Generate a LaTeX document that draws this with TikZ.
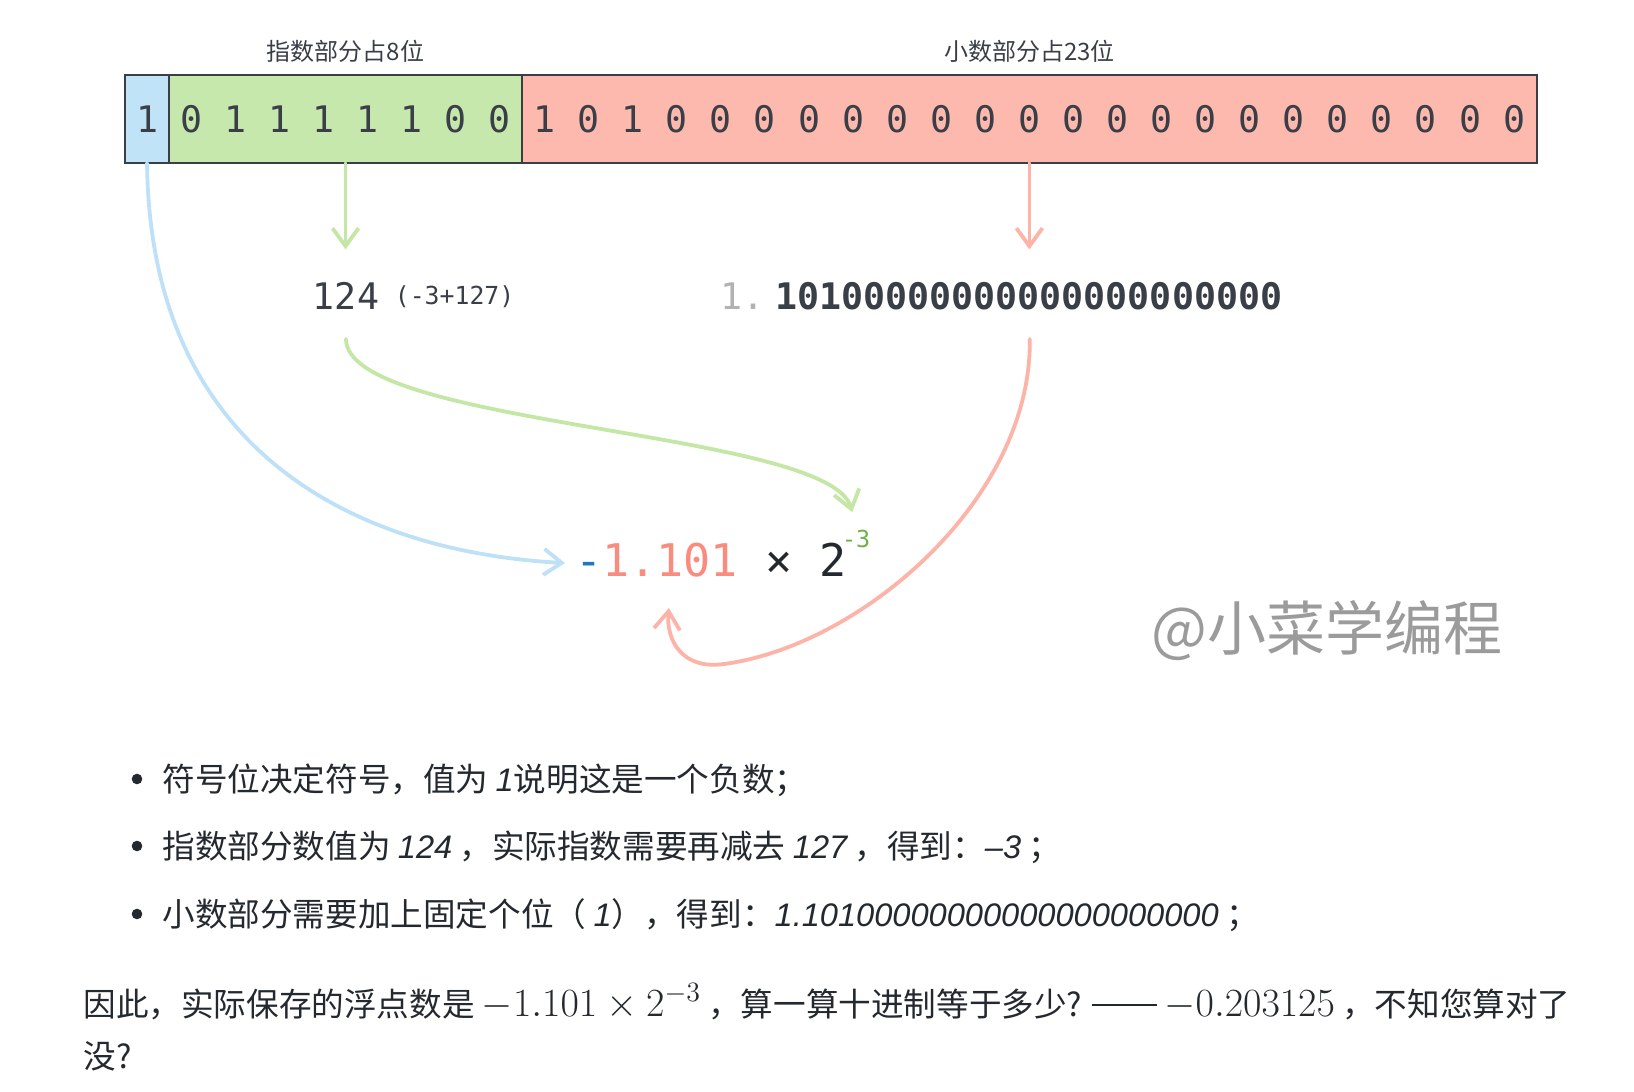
\RequirePackage{fix-cm}
\documentclass[tikz,border=0pt]{standalone}
\usepackage[no-math]{fontspec}
\setmainfont{Noto Sans CJK SC}
\newfontfamily\monofont{DejaVu Sans Mono}
\newfontfamily\numfont{Liberation Sans}
\usetikzlibrary{arrows.meta,calc}
\definecolor{signfill}{RGB}{193,227,247}
\definecolor{expfill}{RGB}{199,232,172}
\definecolor{fracfill}{RGB}{253,185,174}
\definecolor{inkdark}{RGB}{58,63,71}
\definecolor{textdark}{RGB}{36,41,47}
\definecolor{softgray}{RGB}{178,178,178}
\definecolor{markgray}{RGB}{155,155,155}
\definecolor{signblue}{RGB}{30,122,190}
\definecolor{salmon}{RGB}{249,140,126}
\definecolor{supgreen}{RGB}{108,178,70}
\definecolor{blueline}{RGB}{190,225,247}
\definecolor{greenline}{RGB}{196,231,166}
\definecolor{pinkline}{RGB}{253,180,168}
\newcommand{\itn}[1]{{\numfont\itshape #1}}
\newcommand{\mathbig}[1]{{\fontsize{20}{24}\selectfont$#1$}}
\newcommand{\longdash}{\textcolor{textdark}{\rule[0.32em]{2em}{0.9pt}}}
\tikzset{
  cellbox/.style={draw=inkdark, line width=1.2pt, minimum height=44pt, inner sep=0pt, outer sep=0pt,
    anchor=north west, text=inkdark, font=\monofont\fontsize{18.3}{22}\selectfont},
  toplabel/.style={font=\fontsize{12}{14}\selectfont, text=inkdark, inner sep=0pt, anchor=base},
  monobig/.style={font=\monofont\fontsize{18.3}{22}\selectfont, text=inkdark, inner sep=0pt},
  monosmall/.style={font=\monofont\fontsize{12.4}{15}\selectfont, text=inkdark, inner sep=0pt},
  flow/.style={line width=1.9pt, line cap=round, line join=round,
    -{Straight Barb[length=9pt,width=13pt]}},
  bodytext/.style={font=\fontsize{16.3}{20}\selectfont, text=textdark, inner sep=0pt, anchor=base west},
  dot/.style={circle, fill=textdark, inner sep=0pt, minimum size=5.3pt},
}
\begin{document}
\begin{tikzpicture}[x=0.5pt,y=-0.5pt]
\fill[white] (0,0) rectangle (1634,1092);
\useasboundingbox (0,0) rectangle (1634,1092);

% bit cells
\node[cellbox, fill=signfill, minimum width=22.05pt] (sign) at (125,75) {1};
\node[cellbox, fill=expfill, minimum width=176.4pt] (exp) at (sign.north east) {0 1 1 1 1 1 0 0};
\node[cellbox, fill=fracfill, minimum width=507.5pt] (frac) at (exp.north east) {1 0 1 0 0 0 0 0 0 0 0 0 0 0 0 0 0 0 0 0 0 0 0};

\node[toplabel] (explabel) at ([yshift=7pt]exp.north) {指数部分占8位};
\node[toplabel] (fraclabel) at ([yshift=7pt]frac.north) {小数部分占23位};

% decoded values
\node[monobig, anchor=base] (n124) at (346,309) {124};
\node[monosmall, anchor=base west] (paren) at ([xshift=7.5pt,yshift=2.5pt]n124.base east) {(-3+127)};
\node[monobig, font=\monofont\bfseries\fontsize{18.3}{22}\selectfont, anchor=base west] (mant) at (775,309) {10100000000000000000000};
\node[monobig, text=softgray, anchor=base east] (lead) at ([xshift=-5pt]mant.base west) {1.};

% formula
\node[inner sep=0pt, anchor=base west, font=\monofont\fontsize{22.5}{27}\selectfont] (formula) at (575,576)
  {\textcolor{signblue}{-}\textcolor{salmon}{1.101} \textcolor{textdark}{×} \textcolor{textdark}{2}};
\node[inner sep=0pt, anchor=base west, font=\monofont\fontsize{11.7}{14}\selectfont, text=supgreen] (sup)
  at ([xshift=-2.5pt,yshift=14.5pt]formula.base east) {-3};

% watermark
\node[inner sep=0pt, anchor=base west, font=\fontsize{29.5}{34}\selectfont, text=markgray] (mark) at (1151,650) {@小菜学编程};

% connectors
\draw[flow, greenline, shorten >=16pt] (exp.south) -- (exp.south |- n124.north);
\draw[flow, pinkline, shorten >=16pt] (frac.south) -- (frac.south |- mant.north);
\draw[flow, blueline] (sign.south) .. controls (150,455) and (360,552) .. ([xshift=-5pt,yshift=-1.7pt]formula.west);
\draw[flow, greenline] ([yshift=-15pt]n124.base) .. controls (346,427) and (830,430) .. ([xshift=-2pt,yshift=8.5pt]sup.north);
\draw[flow, pinkline] ([xshift=0.5pt,yshift=-15pt]mant.base) .. controls (1032,500) and (860,646) .. (724,664)
  .. controls (682,670) and (666,640) .. ([xshift=-21pt,yshift=-15.5pt]formula.south);

% bullet list
\node[dot] (b1) at (137,779) {};
\node[bodytext] (t1) at (162,791) {符号位决定符号，值为 \itn{1}说明这是一个负数；};
\node[dot] (b2) at (137,846) {};
\node[bodytext] (t2) at (162,858) {指数部分数值为 \itn{124} ，实际指数需要再减去 \itn{127} ，得到：\itn{–3} ；};
\node[dot] (b3) at (137,914) {};
\node[bodytext] (t3) at (162,926) {小数部分需要加上固定个位（ \itn{1}），得到：\itn{1.10100000000000000000000} ；};

% conclusion
\node[bodytext] (c1) at (83,1016) {因此，实际保存的浮点数是 \mathbig{-1.101\times 2^{-3}} ，算一算十进制等于多少? \longdash{} \mathbig{-0.203125} ，不知您算对了};
\node[bodytext] (c2) at (83,1068) {没?};
\end{tikzpicture}
\end{document}
